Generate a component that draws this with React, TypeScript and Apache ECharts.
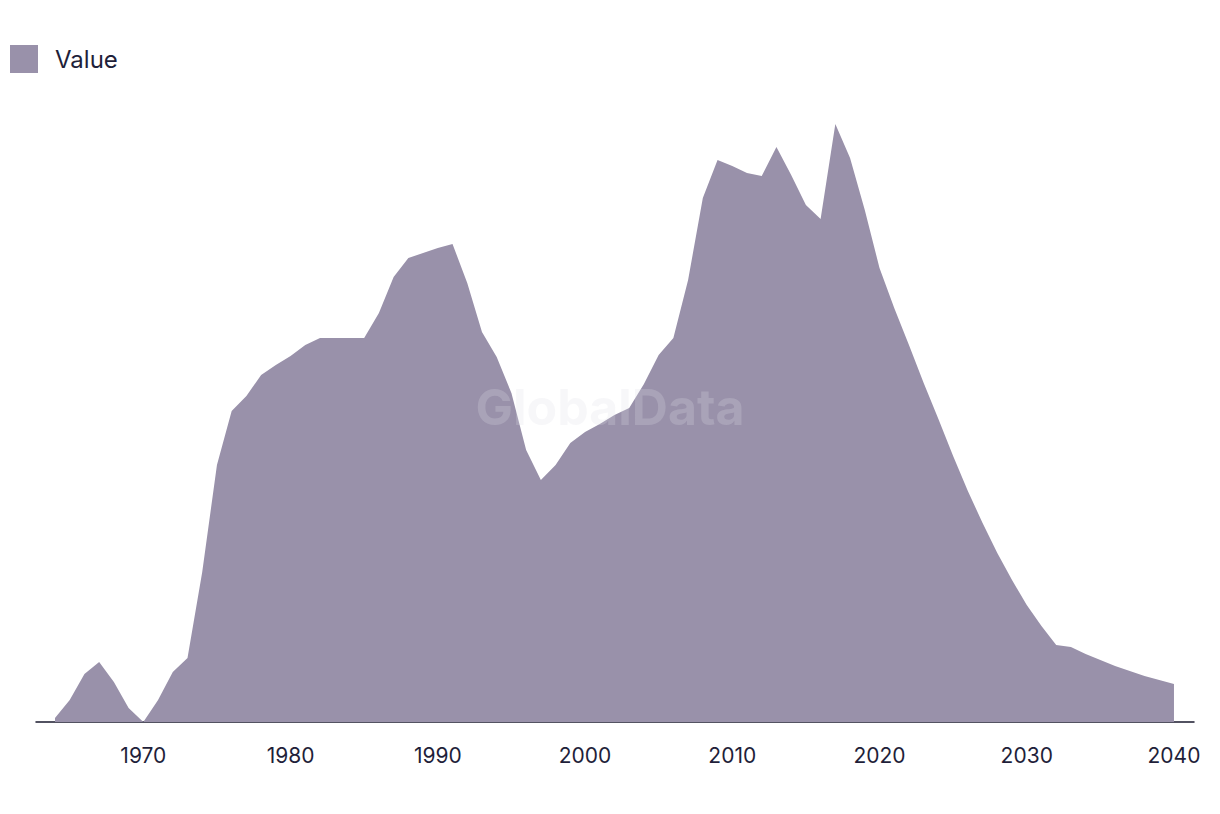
import React, { useEffect, useRef } from "react";
import * as echarts from "echarts";

const years: number[] = [];
for (let y = 1964; y <= 2040; y++) years.push(y);

const values: number[] = [
  4, 22, 48, 60, 40, 14, 0, 22, 50, 64, // 1964-1973
  150, 257, 311, 326, 347, 357, 366, 377, 384, 384, // 1974-1983
  384, 384, 409, 445, 464, 469, 474, 478, 439, 390, // 1984-1993
  365, 329, 272, 242, 257, 279, 290, 298, 307, 314, // 1994-2003
  338, 367, 384, 442, 524, 562, 556, 549, 546, 575, // 2004-2013
  547, 517, 503, 598, 564, 512, 454, 414, 377, 339, // 2014-2023
  303, 266, 231, 199, 169, 142, 117, 96, 77, 75, // 2024-2033
  68, 62, 56, 51, 46, 42, 38, // 2034-2040
];

const tickYears = [1970, 1980, 1990, 2000, 2010, 2020, 2030, 2040];
const seriesName = "Value";
const watermark = "GlobalData";

export default function App() {
  const ref = useRef<HTMLDivElement>(null);
  useEffect(() => {
    if (!ref.current) return;
    const chart = echarts.init(ref.current, null, { renderer: "svg" });
    const data = years.map((y, i) => [y, values[i]]);
    chart.setOption({
      animation: false,
      backgroundColor: "#ffffff",
      legend: {
        left: 10,
        top: 45,
        padding: 0,
        itemWidth: 28,
        itemHeight: 28,
        itemGap: 20,
        icon: "rect",
        textStyle: {
          fontFamily: "Inter, 'Noto Sans', sans-serif",
          fontSize: 24,
          color: "#1f1f3a",
          padding: [0, 0, 0, 12],
        },
        data: [seriesName],
      },
      grid: { left: 36, right: 26, top: 122, bottom: 92, containLabel: false },
      xAxis: {
        type: "value",
        min: 1962.71,
        max: 2041.36,
        splitLine: { show: false },
        axisLine: { show: true, lineStyle: { color: "#1a1a2e", width: 1.5 } },
        axisTick: { show: false },
        axisLabel: {
          customValues: tickYears,
          margin: 23,
          fontFamily: "Inter, 'Noto Sans', sans-serif",
          fontSize: 21,
          color: "#1f1f3a",
          formatter: (v: number) => String(v),
        },
      },
      yAxis: {
        type: "value",
        min: 0,
        max: 600,
        show: false,
        splitLine: { show: false },
      },
      series: [
        {
          name: seriesName,
          type: "line",
          data,
          symbol: "none",
          smooth: false,
          lineStyle: { width: 0, color: "#9991aa" },
          itemStyle: { color: "#9991aa" },
          areaStyle: { color: "#9991aa", opacity: 1 },
        },
      ],
      graphic: [
        {
          type: "text",
          x: 610,
          y: 407,
          z: 100,
          silent: true,
          style: {
            text: watermark,
            fontFamily: "Inter, 'Noto Sans', sans-serif",
            fontWeight: "bold",
            fontSize: 50,
            fill: "rgba(222,222,228,0.24)",
            textAlign: "center",
            textVerticalAlign: "middle",
          },
        },
      ],
    });
    return () => chart.dispose();
  }, []);
  return (
    <div
      ref={ref}
      style={{ position: "fixed", left: 0, top: 0, width: 1220, height: 814 }}
    />
  );
}
